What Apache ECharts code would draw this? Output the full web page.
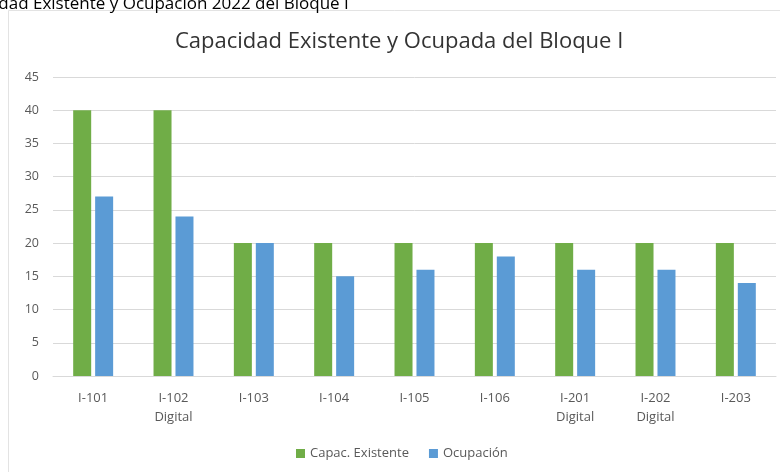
<!DOCTYPE html>
<html><head><meta charset="utf-8">
<script src="https://cdn.jsdelivr.net/npm/echarts@6/dist/echarts.min.js"></script>
<style>html,body{margin:0;padding:0;background:#fff}#c{width:780px;height:472px}</style>
</head><body><div id="c"></div>
<script>
const categories = ['I-101','I-102\nDigital','I-103','I-104','I-105','I-106','I-201\nDigital','I-202\nDigital','I-203'];
const capacidad = [40,40,20,20,20,20,20,20,20];
const ocupacion = [27,24,20,15,16,18,16,16,14];
const yTicks = [0,5,10,15,20,25,30,35,40,45];
const font = '"Open Sans", "Noto Sans", sans-serif';
const chart = echarts.init(document.getElementById('c'), null, {renderer:'canvas'});
chart.setOption({
  animation:false,
  backgroundColor:'#fff',
  textStyle:{fontFamily:font},
  title:{text:'Capacidad Existente y Ocupada del Bloque I',left:175,top:31,padding:0,
    textStyle:{fontSize:22,fontWeight:'normal',color:'#333',fontFamily:font}},
  graphic:[
    {type:'rect',shape:{x:8.5,y:10.5,width:800,height:500},style:{fill:'none',stroke:'#e3e3e3',lineWidth:1},silent:true},
    {type:'text',x:-6,y:13,style:{text:'idad Existente y Ocupación 2022 del Bloque I',fontSize:17,fill:'#000',fontFamily:font,verticalAlign:'bottom',align:'left'}}
  ],
  legend:{bottom:12,left:296,itemWidth:9,itemHeight:9,itemGap:20,icon:'rect',padding:0,
    textStyle:{fontSize:13,color:'#595959',fontFamily:font},
    data:['Capac. Existente','Ocupación']},
  grid:{left:53,right:4,top:77,bottom:96},
  xAxis:{type:'category',data:categories,
    axisLine:{lineStyle:{color:'#d9d9d9'}},axisTick:{show:false},
    axisLabel:{color:'#595959',fontSize:13,margin:13,lineHeight:19,fontFamily:font}},
  yAxis:{type:'value',min:0,max:45,interval:5,
    axisLine:{show:false},axisTick:{show:false},
    splitLine:{lineStyle:{color:'#d9d9d9'}},
    axisLabel:{color:'#595959',fontSize:12.5,margin:14,fontFamily:font,
      formatter:v=>yTicks.includes(v)?String(v):''}},
  series:[
    {name:'Capac. Existente',type:'bar',data:capacidad,barWidth:18,barGap:'22%',itemStyle:{color:'#70AD47'}},
    {name:'Ocupación',type:'bar',data:ocupacion,barWidth:18,itemStyle:{color:'#5B9BD5'}}
  ]
});
</script></body></html>
